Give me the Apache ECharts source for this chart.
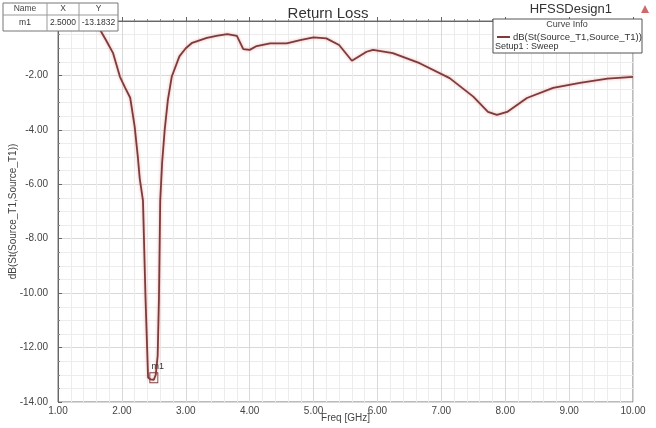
<!DOCTYPE html>
<html><head><meta charset="utf-8">
<script src="https://cdn.jsdelivr.net/npm/echarts@6/dist/echarts.min.js"></script>
<style>html,body{margin:0;padding:0;background:#fff}#c{width:656px;height:428px}</style>
</head><body><div id="c"></div>
<script>
var freq = [1.0,1.2,1.4,1.5,1.6,1.66,1.75,1.86,1.97,2.05,2.13,2.2,2.25,2.28,2.33,2.37,2.41,2.45,2.5,2.53,2.56,2.58,2.6,2.63,2.67,2.72,2.78,2.9,3.0,3.1,3.33,3.5,3.65,3.8,3.9,4.0,4.11,4.32,4.58,4.79,5.0,5.2,5.4,5.6,5.83,5.93,6.24,6.66,7.13,7.5,7.73,7.87,8.03,8.34,8.75,9.17,9.6,10.0];
var dB = [-0.02,-0.04,-0.08,-0.13,-0.24,-0.33,-0.7,-1.17,-2.05,-2.45,-2.82,-3.88,-5.0,-5.8,-6.6,-10.2,-13.1,-13.17,-13.1832,-13.0,-12.3,-10.2,-6.6,-5.2,-4.0,-2.9,-2.05,-1.3,-1.0,-0.8,-0.62,-0.54,-0.48,-0.55,-1.03,-1.06,-0.92,-0.82,-0.82,-0.7,-0.6,-0.64,-0.88,-1.46,-1.13,-1.06,-1.18,-1.55,-2.1,-2.78,-3.34,-3.45,-3.34,-2.83,-2.46,-2.27,-2.12,-2.05];
var markerName = 'm1';
var markerX = 2.5;
var markerY = -13.1832;
var seriesName = 'dB(St(Source_T1,Source_T1))';

var data = freq.map(function(f,i){return [f,dB[i]];});
var chart = echarts.init(document.getElementById('c'));
var F = 'Liberation Sans, Arial, sans-serif';
function T(x,y,text,size,align,fill){return {type:'text',z:100,style:{x:x,y:y,text:text,align:align||'center',verticalAlign:'middle',font:size+'px '+F,fill:fill||'#333'}};}
function L(x1,y1,x2,y2,c){return {type:'line',z:99,shape:{x1:x1,y1:y1,x2:x2,y2:y2},style:{stroke:c||'#999',lineWidth:1}};}
chart.setOption({
  animation:false,
  backgroundColor:'#fff',
  title:{text:'Return Loss',left:'center',top:1,textStyle:{fontFamily:F,fontSize:15,fontWeight:'normal',color:'#333'}},
  legend:{data:[seriesName],left:497,top:32,padding:0,z:20,itemWidth:13,itemHeight:2,itemGap:2,icon:'rect',
    textStyle:{fontFamily:F,fontSize:9.5,color:'#333',padding:[0,0,0,-2]}},
  grid:{left:58,right:23,top:21,bottom:26,show:true,borderColor:'#777',borderWidth:1,containLabel:false,outerBoundsMode:'none'},
  xAxis:{type:'value',min:1,max:10,interval:1,name:'Freq [GHz]',nameLocation:'middle',nameGap:11,nameMoveOverlap:false,
    nameTextStyle:{fontFamily:F,fontSize:10,color:'#444'},
    axisLine:{show:true,lineStyle:{color:'#666'}},axisTick:{show:true,inside:true,length:4,lineStyle:{color:'#666'}},
    minorTick:{show:true,splitNumber:5,length:2,lineStyle:{color:'#888'}},
    splitLine:{show:true,lineStyle:{color:'#d9d9d9'}},
    minorSplitLine:{show:true,lineStyle:{color:'#ececec'}},
    axisLabel:{fontFamily:F,fontSize:10,color:'#444',margin:4,formatter:function(v){return v.toFixed(2);}}},
  yAxis:{type:'value',min:-14,max:0,interval:2,name:'dB(St(Source_T1,Source_T1))',nameLocation:'middle',nameGap:40,nameMoveOverlap:false,
    nameTextStyle:{fontFamily:F,fontSize:10,color:'#444'},
    axisLine:{show:true,lineStyle:{color:'#666'}},axisTick:{show:true,inside:true,length:4,lineStyle:{color:'#666'}},
    minorTick:{show:true,splitNumber:4,length:2,lineStyle:{color:'#888'}},
    splitLine:{show:true,lineStyle:{color:'#d9d9d9'}},
    minorSplitLine:{show:true,lineStyle:{color:'#ececec'}},
    axisLabel:{fontFamily:F,fontSize:10,color:'#444',margin:10,formatter:function(v){return v===0?'':v.toFixed(2);}}},
  series:[{name:seriesName,type:'line',data:data,showSymbol:false,smooth:false,color:'#7d3c3c',
    lineStyle:{width:1.8,color:'#7d3c3c',shadowColor:'rgba(235,130,130,0.7)',shadowBlur:3},
    markPoint:{data:[{coord:[markerX,markerY]}],symbol:'rect',symbolSize:[8,10],symbolOffset:[0,-2],
      itemStyle:{color:'rgba(0,0,0,0)',borderColor:'#7d3c3c',borderWidth:1},
      label:{show:true,formatter:markerName,position:'top',distance:1,offset:[4,0],fontFamily:F,fontSize:9,color:'#333'}}}],
  graphic:[
    {type:'rect',z:98,shape:{x:3,y:3,width:115,height:28},style:{fill:'#fff',stroke:'#777',lineWidth:1}},
    L(3,15,118,15), L(47,3,47,31), L(79,3,79,31),
    T(25,9,'Name',8.5,'center','#444'), T(63,9,'X',8.5,'center','#444'), T(98.5,9,'Y',8.5,'center','#444'),
    T(25,23,markerName,8.5), T(63,23,markerX.toFixed(4),8.5), T(98.5,23,markerY.toFixed(4),8.5),
    {type:'rect',z:3,shape:{x:493,y:19,width:149,height:34},style:{fill:'#fff',stroke:'#555',lineWidth:1}},
    T(567,25,'Curve Info',9,'center','#444'),
    T(495,47,'Setup1 : Sweep',9,'left'),
    T(612,9,'HFSSDesign1',13,'right'),
    {type:'polygon',z:100,shape:{points:[[641,13],[649,13],[645,5]]},style:{fill:'#d06a6a'}}
  ]
});
</script></body></html>
